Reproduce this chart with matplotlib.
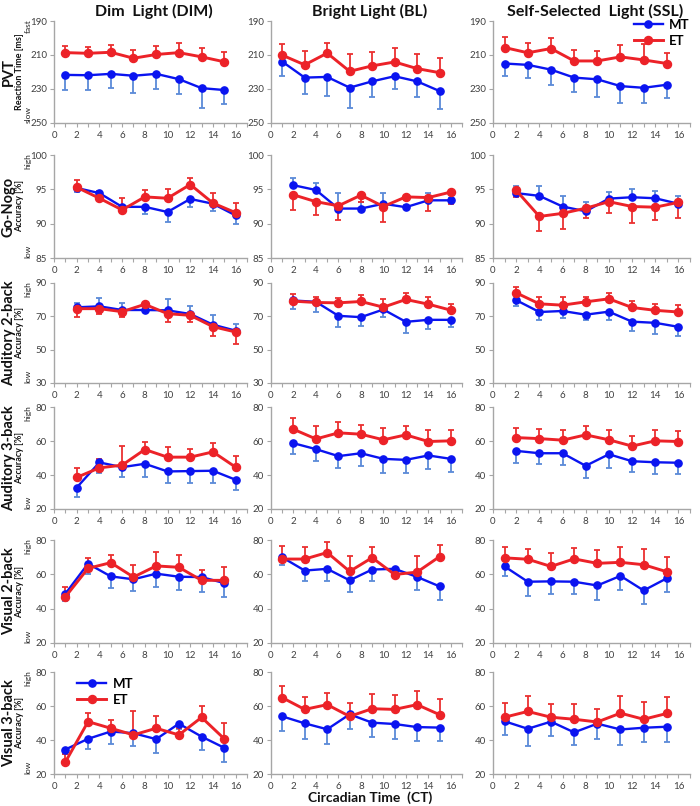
import matplotlib
matplotlib.use('Agg')
import matplotlib.pyplot as plt
from matplotlib.ticker import MultipleLocator
import numpy as np

plt.rcParams['font.family'] = ['Lato', 'DejaVu Sans']

# ---------------- data ----------------
ct_odd = [1, 3, 5, 7, 9, 11, 13, 15]
ct_even = [2, 4, 6, 8, 10, 12, 14, 16]

row_names = ['PVT', 'Go-Nogo', 'Auditory 2-back', 'Auditory 3-back', 'Visual 2-back', 'Visual 3-back']
row_units = ['Reaction Time [ms]', 'Accuracy [%]', 'Accuracy [%]', 'Accuracy [%]', 'Accuracy [%]', 'Accuracy [%]']
row_top_words = ['fast', 'high', 'high', 'high', 'high', 'high']
row_bottom_words = ['slow', 'low', 'low', 'low', 'low', 'low']
col_titles = ['Dim  Light (DIM)', 'Bright Light (BL)', 'Self-Selected  Light (SSL)']
series_labels = ['MT', 'ET']
x_label = 'Circadian Time  (CT)'

row_yticks = [[190, 210, 230, 250], [85, 90, 95, 100], [30, 50, 70, 90],
              [20, 40, 60, 80], [20, 40, 60, 80], [20, 40, 60, 80]]
x_ticks = [0, 2, 4, 6, 8, 10, 12, 14, 16]

# PVT
pvt_dim_mt = [221.7, 221.9, 221.1, 222.2, 221.1, 224.2, 229.5, 230.6]
pvt_dim_mt_err = [8.6, 8.7, 8.4, 10.0, 8.8, 8.8, 11.9, 8.4]
pvt_dim_et = [208.6, 209.0, 208.4, 211.9, 209.7, 208.6, 211.1, 214.0]
pvt_dim_et_err = [4.0, 4.0, 4.0, 5.0, 5.0, 5.7, 5.5, 6.0]
pvt_bl_mt = [213.9, 223.3, 222.9, 229.2, 225.5, 222.5, 225.5, 231.2]
pvt_bl_mt_err = [8.6, 9.9, 11.0, 12.0, 9.2, 7.5, 9.0, 10.3]
pvt_bl_et = [210.1, 215.8, 208.9, 219.6, 216.4, 214.1, 218.0, 220.4]
pvt_bl_et_err = [6.7, 8.2, 5.7, 10.0, 8.0, 8.5, 8.5, 8.7]
pvt_ssl_mt = [215.0, 215.8, 218.6, 223.3, 224.3, 228.3, 229.3, 227.5]
pvt_ssl_mt_err = [7.5, 7.5, 9.0, 8.5, 10.4, 10.2, 9.0, 8.0]
pvt_ssl_et = [205.6, 208.7, 206.2, 213.5, 213.5, 211.1, 212.9, 215.0]
pvt_ssl_et_err = [6.0, 6.0, 6.0, 6.3, 5.7, 7.0, 9.4, 6.3]

# Go-Nogo
gng_dim_mt = [95.2, 94.45, 92.45, 92.45, 91.7, 93.6, 92.9, 91.2]
gng_dim_mt_err = [0.6, 0.65, 0.95, 1.05, 1.4, 1.15, 1.1, 1.3]
gng_dim_et = [95.3, 93.7, 92.0, 93.9, 93.7, 95.7, 93.0, 91.6]
gng_dim_et_err = [1.0, 1.1, 1.7, 1.0, 1.3, 0.9, 1.45, 1.4]
gng_bl_mt = [95.6, 94.9, 92.2, 92.2, 92.9, 92.4, 93.4, 93.4]
gng_bl_mt_err = [1.0, 1.0, 2.2, 1.0, 1.5, 0.35, 1.1, 0.4]
gng_bl_et = [94.2, 93.2, 92.6, 94.15, 92.5, 93.9, 93.8, 94.6]
gng_bl_et_err = [2.2, 2.0, 2.0, 1.0, 2.3, 0.5, 1.9, 1.7]
gng_ssl_mt = [94.45, 94.05, 92.5, 91.8, 93.65, 93.85, 93.7, 92.9]
gng_ssl_mt_err = [1.1, 1.4, 1.5, 1.3, 0.95, 1.15, 1.05, 1.2]
gng_ssl_et = [94.85, 91.05, 91.5, 92.25, 93.2, 92.5, 92.4, 93.1]
gng_ssl_et_err = [1.0, 2.1, 2.25, 1.4, 1.6, 2.35, 1.9, 2.3]

# Auditory 2-back
a2_dim_mt = [75.4, 76.0, 73.8, 73.8, 73.6, 71.4, 65.0, 61.4]
a2_dim_mt_err = [2.6, 5.0, 4.2, 0.5, 7.0, 5.0, 5.8, 4.2]
a2_dim_et = [74.6, 74.6, 72.8, 77.2, 71.6, 70.6, 63.8, 60.6]
a2_dim_et_err = [5.0, 3.2, 3.2, 1.0, 5.0, 3.8, 5.6, 7.0]
a2_bl_mt = [79.5, 78.7, 70.3, 69.5, 74.1, 66.7, 67.9, 67.9]
a2_bl_mt_err = [5.4, 6.0, 6.6, 5.6, 4.6, 7.0, 5.6, 4.4]
a2_bl_et = [79.1, 78.3, 78.1, 78.9, 75.5, 80.1, 77.3, 73.7]
a2_bl_et_err = [4.0, 3.4, 3.0, 4.0, 4.6, 4.0, 4.4, 3.6]
a2_ssl_mt = [79.7, 72.6, 73.2, 71.0, 72.8, 66.8, 66.1, 63.7]
a2_ssl_mt_err = [3.6, 5.0, 4.0, 3.4, 5.0, 5.7, 6.7, 5.7]
a2_ssl_et = [84.1, 77.5, 76.7, 78.7, 80.5, 75.3, 73.6, 72.6]
a2_ssl_et_err = [3.2, 4.2, 4.6, 2.6, 3.2, 3.8, 4.0, 4.0]

# Auditory 3-back
a3_dim_mt = [32.6, 47.4, 44.6, 46.6, 42.1, 42.3, 42.5, 37.2]
a3_dim_mt_err = [5.5, 6.4, 6.0, 7.6, 7.0, 7.2, 7.4, 6.0]
a3_dim_et = [38.6, 44.2, 45.8, 55.0, 50.5, 50.5, 53.6, 44.6]
a3_dim_et_err = [5.8, 5.0, 11.4, 4.3, 5.7, 5.0, 5.3, 6.8]
a3_bl_mt = [58.7, 55.2, 51.1, 52.8, 49.5, 48.9, 51.5, 49.5]
a3_bl_mt_err = [6.6, 7.0, 7.2, 7.6, 8.6, 8.0, 7.8, 7.6]
a3_bl_et = [66.9, 61.2, 64.8, 64.0, 60.7, 63.6, 59.7, 60.1]
a3_bl_et_err = [6.6, 7.6, 6.5, 5.5, 6.8, 5.5, 6.6, 6.4]
a3_ssl_mt = [54.2, 52.8, 52.8, 45.4, 52.2, 48.1, 47.5, 47.2]
a3_ssl_mt_err = [7.0, 6.5, 7.0, 7.0, 8.0, 6.6, 6.8, 6.8]
a3_ssl_et = [62.0, 61.4, 60.5, 63.6, 60.7, 57.0, 60.1, 59.7]
a3_ssl_et_err = [5.8, 5.7, 6.0, 5.5, 6.0, 6.2, 6.6, 5.9]

# Visual 2-back
v2_dim_mt = [48.7, 66.2, 58.8, 57.1, 60.4, 58.6, 58.4, 54.9]
v2_dim_mt_err = [4.5, 6.0, 6.8, 6.6, 7.8, 8.0, 8.6, 8.0]
v2_dim_et = [46.9, 63.5, 66.8, 58.4, 64.9, 64.1, 56.5, 56.5]
v2_dim_et_err = [5.8, 5.8, 4.7, 6.8, 8.4, 7.0, 6.2, 7.6]
v2_bl_mt = [69.9, 62.2, 63.2, 56.5, 62.8, 63.2, 58.5, 53.0]
v2_bl_mt_err = [4.7, 6.1, 7.3, 6.7, 6.7, 2.9, 7.7, 8.1]
v2_bl_et = [68.9, 68.9, 72.7, 61.7, 69.7, 59.9, 61.3, 70.3]
v2_bl_et_err = [7.5, 6.9, 6.1, 8.8, 6.5, 3.9, 9.2, 6.9]
v2_ssl_mt = [64.6, 55.7, 55.9, 55.7, 53.5, 59.1, 50.6, 57.7]
v2_ssl_mt_err = [5.8, 8.1, 7.3, 7.1, 8.5, 8.1, 7.7, 7.9]
v2_ssl_et = [69.6, 68.8, 64.6, 69.0, 66.4, 67.0, 65.6, 61.5]
v2_ssl_et_err = [6.2, 6.2, 7.7, 6.3, 7.5, 8.7, 8.9, 8.5]

# Visual 3-back
v3_dim_mt = [34.4, 40.7, 45.0, 44.0, 40.5, 49.6, 42.0, 35.4]
v3_dim_mt_err = [2.9, 5.8, 7.4, 7.4, 8.2, 3.0, 8.0, 8.4]
v3_dim_et = [27.0, 50.8, 46.9, 43.0, 46.9, 43.0, 53.3, 40.7]
v3_dim_et_err = [4.5, 5.1, 4.7, 14.2, 7.2, 4.0, 6.6, 9.2]
v3_bl_mt = [53.9, 49.8, 46.3, 55.1, 50.2, 49.4, 47.6, 47.3]
v3_bl_mt_err = [8.4, 9.0, 8.4, 8.6, 8.2, 8.8, 8.2, 7.8]
v3_bl_et = [64.9, 58.0, 60.8, 53.9, 58.4, 58.0, 60.8, 54.9]
v3_bl_et_err = [6.9, 7.1, 7.1, 8.0, 8.4, 8.4, 8.2, 9.4]
v3_ssl_mt = [51.0, 46.6, 50.8, 44.5, 49.6, 46.2, 47.2, 47.8]
v3_ssl_mt_err = [8.0, 10.1, 8.5, 7.2, 8.8, 9.0, 8.2, 8.8]
v3_ssl_et = [53.4, 56.8, 53.4, 52.2, 50.6, 55.8, 52.2, 55.6]
v3_ssl_et_err = [8.2, 9.3, 8.0, 9.0, 7.8, 10.0, 10.0, 9.5]

# ---------------- assemble ----------------
row_x = [ct_odd, ct_even, ct_even, ct_even, ct_odd, ct_odd]
panels = [
    [(pvt_dim_mt, pvt_dim_mt_err, pvt_dim_et, pvt_dim_et_err),
     (pvt_bl_mt, pvt_bl_mt_err, pvt_bl_et, pvt_bl_et_err),
     (pvt_ssl_mt, pvt_ssl_mt_err, pvt_ssl_et, pvt_ssl_et_err)],
    [(gng_dim_mt, gng_dim_mt_err, gng_dim_et, gng_dim_et_err),
     (gng_bl_mt, gng_bl_mt_err, gng_bl_et, gng_bl_et_err),
     (gng_ssl_mt, gng_ssl_mt_err, gng_ssl_et, gng_ssl_et_err)],
    [(a2_dim_mt, a2_dim_mt_err, a2_dim_et, a2_dim_et_err),
     (a2_bl_mt, a2_bl_mt_err, a2_bl_et, a2_bl_et_err),
     (a2_ssl_mt, a2_ssl_mt_err, a2_ssl_et, a2_ssl_et_err)],
    [(a3_dim_mt, a3_dim_mt_err, a3_dim_et, a3_dim_et_err),
     (a3_bl_mt, a3_bl_mt_err, a3_bl_et, a3_bl_et_err),
     (a3_ssl_mt, a3_ssl_mt_err, a3_ssl_et, a3_ssl_et_err)],
    [(v2_dim_mt, v2_dim_mt_err, v2_dim_et, v2_dim_et_err),
     (v2_bl_mt, v2_bl_mt_err, v2_bl_et, v2_bl_et_err),
     (v2_ssl_mt, v2_ssl_mt_err, v2_ssl_et, v2_ssl_et_err)],
    [(v3_dim_mt, v3_dim_mt_err, v3_dim_et, v3_dim_et_err),
     (v3_bl_mt, v3_bl_mt_err, v3_bl_et, v3_bl_et_err),
     (v3_ssl_mt, v3_ssl_mt_err, v3_ssl_et, v3_ssl_et_err)],
]

# panels where MT error bars point up and ET error bars point down (visually)
flipped = {(1, 1), (1, 2), (2, 0)}

# ---------------- layout ----------------
W, H = 700, 806
fig = plt.figure(figsize=(W / 100, H / 100), dpi=100)

col_px = [(54, 247), (271, 462), (493, 690)]
row_px = [(21, 123), (155, 258), (283, 383), (407, 509), (540, 643), (672, 774)]

blue = '#0a14f0'
red = '#ec2228'
blue_err = '#5b8ad8'
red_err = '#ea3030'
spine_c = '#a6a6a6'
tick_c = '#404040'

axes = {}
for r in range(6):
    for c in range(3):
        x0, x1 = col_px[c]
        t, b = row_px[r]
        ax = fig.add_axes([x0 / W, 1 - b / H, (x1 - x0) / W, (b - t) / H])
        axes[(r, c)] = ax
        x = np.array(row_x[r], dtype=float)
        mt, mt_err, et, et_err = [np.array(v, dtype=float) for v in panels[r][c]]
        yt = row_yticks[r]
        inverted = (r == 0)
        mt_dir, et_dir = (-1, 1) if (r, c) not in flipped else (1, -1)

        def yerr(err, d):
            up = d * (-1 if inverted else 1) > 0
            z = np.zeros_like(err)
            return [z, err] if up else [err, z]

        ax.errorbar(x, mt, yerr=yerr(mt_err, mt_dir), fmt='none', ecolor=blue_err,
                    elinewidth=1.3, capsize=2.0, capthick=1.3, zorder=2)
        ax.errorbar(x, et, yerr=yerr(et_err, et_dir), fmt='none', ecolor=red_err,
                    elinewidth=1.3, capsize=2.0, capthick=1.3, zorder=2)
        lmt, = ax.plot(x, mt, '-o', color=blue, lw=1.7, ms=5.2, zorder=3, label=series_labels[0])
        let, = ax.plot(x, et, '-o', color=red, lw=2.1, ms=5.8, zorder=4, label=series_labels[1])

        ax.set_xlim(0, 17)
        if inverted:
            ax.set_ylim(yt[-1], yt[0])
        else:
            ax.set_ylim(yt[0], yt[-1])
        ax.set_yticks(yt)
        ax.set_xticks(x_ticks)
        ax.xaxis.set_minor_locator(MultipleLocator(1))
        for s in ['top', 'right']:
            ax.spines[s].set_visible(False)
        for s in ['left', 'bottom']:
            ax.spines[s].set_color(spine_c)
            ax.spines[s].set_linewidth(1.0)
        ax.tick_params(axis='both', which='major', labelsize=7, colors=spine_c,
                       labelcolor=tick_c, length=3, width=0.8, pad=2)
        ax.tick_params(axis='x', which='minor', colors=spine_c, length=3, width=0.8)
        ax.tick_params(axis='x', which='major', pad=2.5)
        ax.patch.set_alpha(0)

        if c == 2 and r == 0:
            leg_handles = [lmt, let]
        if c == 0 and r == 5:
            leg_handles2 = [lmt, let]

# column titles
for c in range(3):
    x0, x1 = col_px[c]
    fig.text((x0 + x1) / 2 / W + 0.005, 1 - 11 / H, col_titles[c], ha='center', va='center',
             fontsize=11.5, fontweight='bold', color='#111111')

# row labels
for r in range(6):
    t, b = row_px[r]
    yc = 1 - (t + b) / 2 / H
    fig.text(9 / W, yc, row_names[r], rotation=90, ha='center', va='center',
             fontsize=10.5, fontweight='bold', color='#111111')
    fig.text(20 / W, yc, row_units[r], rotation=90, ha='center', va='center',
             fontsize=6.5, fontweight='bold', color='#111111')
    fig.text(28 / W, 1 - (t - 2) / H, row_top_words[r], rotation=90, ha='center', va='top',
             fontsize=6, color='#222222')
    fig.text(28 / W, 1 - b / H, row_bottom_words[r], rotation=90, ha='center', va='bottom',
             fontsize=6, color='#222222')

# x label
fig.text(370 / W, 1 - 798 / H, x_label, ha='center', va='center',
         fontsize=10, fontweight='bold', color='#111111')

# legends
axes[(0, 2)].legend(leg_handles, series_labels, loc='upper right', bbox_to_anchor=(1.04, 1.1),
                    frameon=False, prop={'weight': 'bold', 'size': 9.5},
                    handlelength=2.2, handletextpad=0.5, labelspacing=0.3, borderpad=0.1)
axes[(5, 0)].legend(leg_handles2, series_labels, loc='upper left', bbox_to_anchor=(0.08, 1.02),
                    frameon=False, prop={'weight': 'bold', 'size': 9.5},
                    handlelength=2.2, handletextpad=0.5, labelspacing=0.3, borderpad=0.1)

fig.savefig('out.png', dpi=100)
